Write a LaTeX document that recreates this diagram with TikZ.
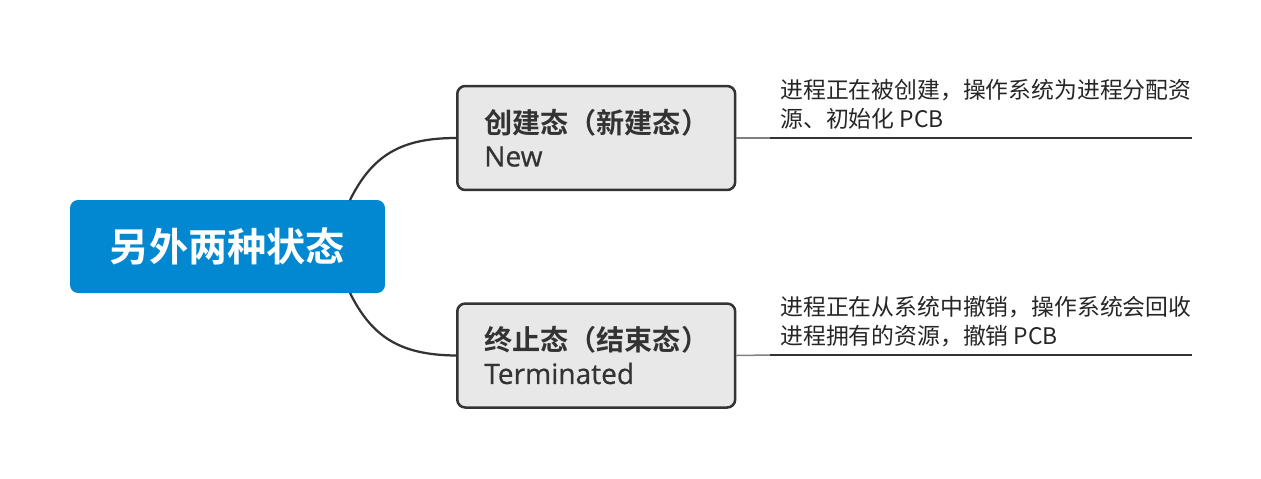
\documentclass[tikz,border=0pt]{standalone}
\usepackage{fontspec}
\setmainfont{Open Sans}
\newfontfamily\cjk{Noto Sans CJK SC}[BoldFont={Noto Sans CJK SC Bold}]
\newfontfamily\lat{Open Sans}[FakeBold=0.6]
\usetikzlibrary{positioning}
\definecolor{rootblue}{HTML}{0288D1}
\definecolor{boxgray}{HTML}{E8E8E8}
\definecolor{edge}{HTML}{333333}
\begin{document}
\begin{tikzpicture}[x=0.02cm, y=-0.02cm,
  root/.style = {fill=rootblue, rounded corners=0.16cm, minimum width=6.3cm, minimum height=1.86cm, text=white, font=\cjk\bfseries\fontsize{22.3}{26}\selectfont},
  state/.style = {draw=edge, line width=0.05cm, fill=boxgray, rounded corners=0.16cm, minimum height=2.08cm, text width=4.48cm, inner xsep=0.54cm, align=left, text=edge, anchor=west, font=\lat\fontsize{16}{18.8}\selectfont},
  note/.style = {anchor=south west, inner sep=0pt, align=left, text=black!85, font=\cjk\fontsize{13}{16.5}\selectfont},
  link/.style = {draw=edge, line width=0.045cm},
  stub/.style = {draw=gray, line width=0.03cm},
  under/.style = {draw=edge, line width=0.03cm}]
    \useasboundingbox (0,0) rectangle (1261,478);
    \node[root] (top) at (227.5,246.5) {另外两种状态};
    \node[state] (new) at (456,138) {{\cjk\bfseries 创建态（新建态）}\\New};
    \node[state] (end) at (456,355.5) {{\cjk\bfseries 终止态（结束态）}\\Terminated};
    \coordinate (r1) at (350,200);
    \coordinate (r2) at (350,293);
    \coordinate (u1) at (770,138);
    \coordinate (v1) at (1192,138);
    \coordinate (u2) at (770,355);
    \coordinate (v2) at (1192,355);
    \node[note] (n1) at (780,130) {进程正在被创建，操作系统为进程分配资\\源、初始化 PCB};
    \node[note] (n2) at (780,347) {进程正在从系统中撤销，操作系统会回收\\进程拥有的资源，撤销 PCB};
    \path[link] (r1) .. controls (372,156) and (400,138) .. (new.west);
    \path[link] (r2) .. controls (372,337) and (400,355) .. (end.west);
    \path[stub] (new.east) -- (u1);
    \path[stub] (end.east) -- (u2);
    \path[under] (u1) -- (v1);
    \path[under] (u2) -- (v2);
\end{tikzpicture}
\end{document}
